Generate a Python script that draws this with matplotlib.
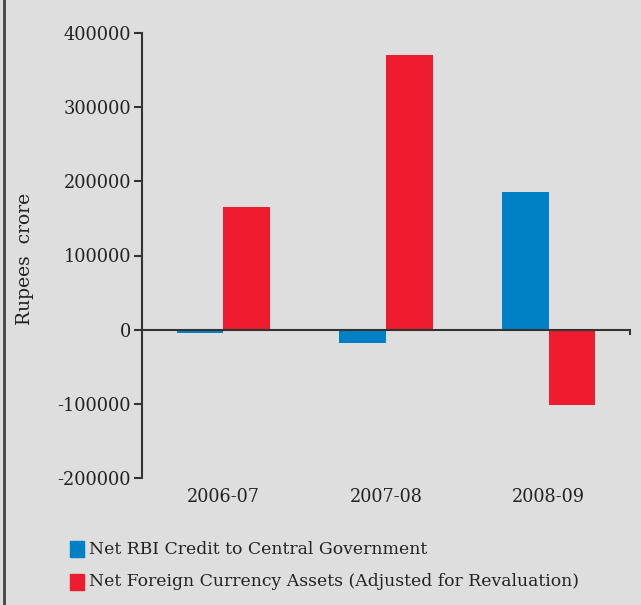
import matplotlib
matplotlib.use("Agg")
import matplotlib.pyplot as plt
from matplotlib.lines import Line2D
from matplotlib.patches import Rectangle

categories = ["2006-07", "2007-08", "2008-09"]
net_rbi_credit = [-4500, -17500, 185000]
net_fca = [166000, 371000, -101000]
series_names = ["Net RBI Credit to Central Government",
                "Net Foreign Currency Assets (Adjusted for Revaluation)"]
yticks = [-200000, -100000, 0, 100000, 200000, 300000, 400000]

BG = "#dedede"
BLUE = "#0080c6"
RED = "#ee1c2e"
TXT = "#222222"
AX = "#333333"

plt.rcParams['font.family'] = ['DejaVu Serif']

fig = plt.figure(figsize=(6.41, 6.05), dpi=100, facecolor=BG)
ax = fig.add_axes([142/641, 1-478/605, (630-142)/641, (478-33)/605])
ax.set_facecolor(BG)

w = 0.286
x = [i + 0.5 for i in range(len(categories))]
ax.bar([v - w/2 for v in x], net_rbi_credit, width=w, color=BLUE, zorder=2)
ax.bar([v + w/2 for v in x], net_fca, width=w, color=RED, zorder=2)

ax.set_xlim(0, 3)
ax.set_ylim(-200000, 400000)
ax.set_yticks(yticks)
ax.set_yticklabels([str(t) for t in yticks], fontsize=12.8, color=TXT)
ax.set_xticks(x)
ax.set_xticklabels(categories, fontsize=12.7, color=TXT)
ax.tick_params(axis='x', length=0, pad=7)
ax.tick_params(axis='y', length=6, width=1.5, color=AX, pad=2, direction='out')

for s in ['top', 'right', 'bottom']:
    ax.spines[s].set_visible(False)
ax.spines['left'].set_color(AX)
ax.spines['left'].set_linewidth(1.5)

ax.axhline(0, color=AX, lw=1.5, zorder=3)
ax.plot([3, 3], [0, -6000], color=AX, lw=1.5, clip_on=False, zorder=3)

ax.set_ylabel("Rupees  crore", fontsize=13.5, color=TXT)
ax.yaxis.set_label_coords(-0.221, 0.492)

# legend
for i, (name, col) in enumerate(zip(series_names, [BLUE, RED])):
    ytop = 541 + i*33
    fig.patches.append(Rectangle((70/641, 1-(ytop+16)/605), 14/641, 16/605,
                                 transform=fig.transFigure, color=col))
    fig.text(89/641, 1-(ytop+8)/605, name, fontsize=12.4, color=TXT,
             va='center', ha='left')

# left frame line
fig.add_artist(Line2D([3.5/641, 3.5/641], [0, 1], transform=fig.transFigure,
                      color="#444444", lw=2))

fig.savefig("out.png", dpi=100, facecolor=BG)
